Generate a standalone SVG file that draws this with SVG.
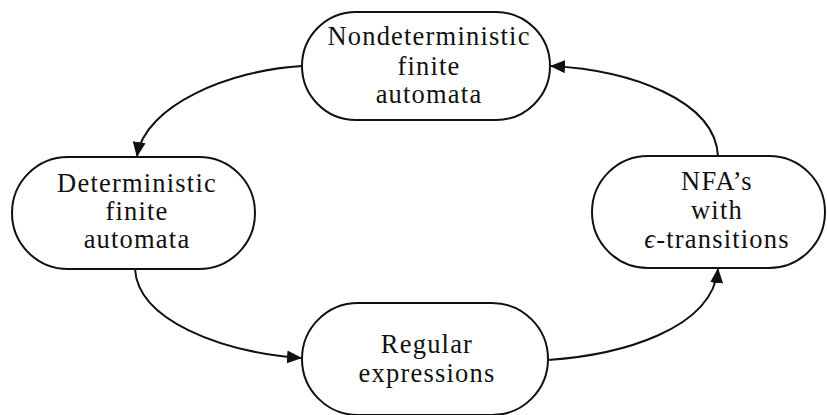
<svg xmlns="http://www.w3.org/2000/svg" width="827" height="415" viewBox="0 0 827 415">
  <style>
    .box { fill: #fff; stroke: #111; stroke-width: 2; }
    .lbl { font-family: "Liberation Serif", "Times New Roman", serif; font-size: 26.5px; letter-spacing: 1.2px; fill: #111; text-anchor: middle; }
    .edge { fill: none; stroke: #111; stroke-width: 2; }
  </style>
  <defs>
    <marker id="arrow" markerWidth="15" markerHeight="13" refX="14" refY="6.5" orient="auto" markerUnits="userSpaceOnUse">
      <path d="M0,0 L15,6.5 L0,13 Z" fill="#111"/>
    </marker>
  </defs>
  <rect width="827" height="415" fill="#fff"/>

  <!-- curved arrows linking the four representations in a cycle -->
  <g id="connectors">
    <path class="edge" d="M302,66 C230,70 145,105 137,156" marker-end="url(#arrow)"/>
    <path class="edge" d="M135,269 C138,320 220,352 301,358" marker-end="url(#arrow)"/>
    <path class="edge" d="M548,360 C620,355 712,330 718,269" marker-end="url(#arrow)"/>
    <path class="edge" d="M718,156 C715,100 630,70 551,66" marker-end="url(#arrow)"/>
  </g>

  <g id="nfa">
    <rect class="box" x="302" y="12" width="248" height="108" rx="54" ry="54"/>
    <text class="lbl" x="429" y="45">Nondeterministic</text>
    <text class="lbl" x="429" y="75">finite</text>
    <text class="lbl" x="429" y="103">automata</text>
  </g>

  <g id="dfa">
    <rect class="box" x="12" y="157" width="243" height="112" rx="56" ry="56"/>
    <text class="lbl" x="137" y="192">Deterministic</text>
    <text class="lbl" x="137" y="220">finite</text>
    <text class="lbl" x="137" y="248">automata</text>
  </g>

  <g id="enfa">
    <rect class="box" x="592" y="156" width="233" height="112" rx="56" ry="56"/>
    <text class="lbl" x="717" y="190">NFA’s</text>
    <text class="lbl" x="717" y="219">with</text>
    <text class="lbl" x="717" y="248"><tspan font-style="italic">ϵ</tspan>-transitions</text>
  </g>

  <g id="regex">
    <rect class="box" x="302" y="303" width="246" height="112" rx="56" ry="56"/>
    <text class="lbl" x="427" y="353">Regular</text>
    <text class="lbl" x="427" y="382">expressions</text>
  </g>
</svg>
